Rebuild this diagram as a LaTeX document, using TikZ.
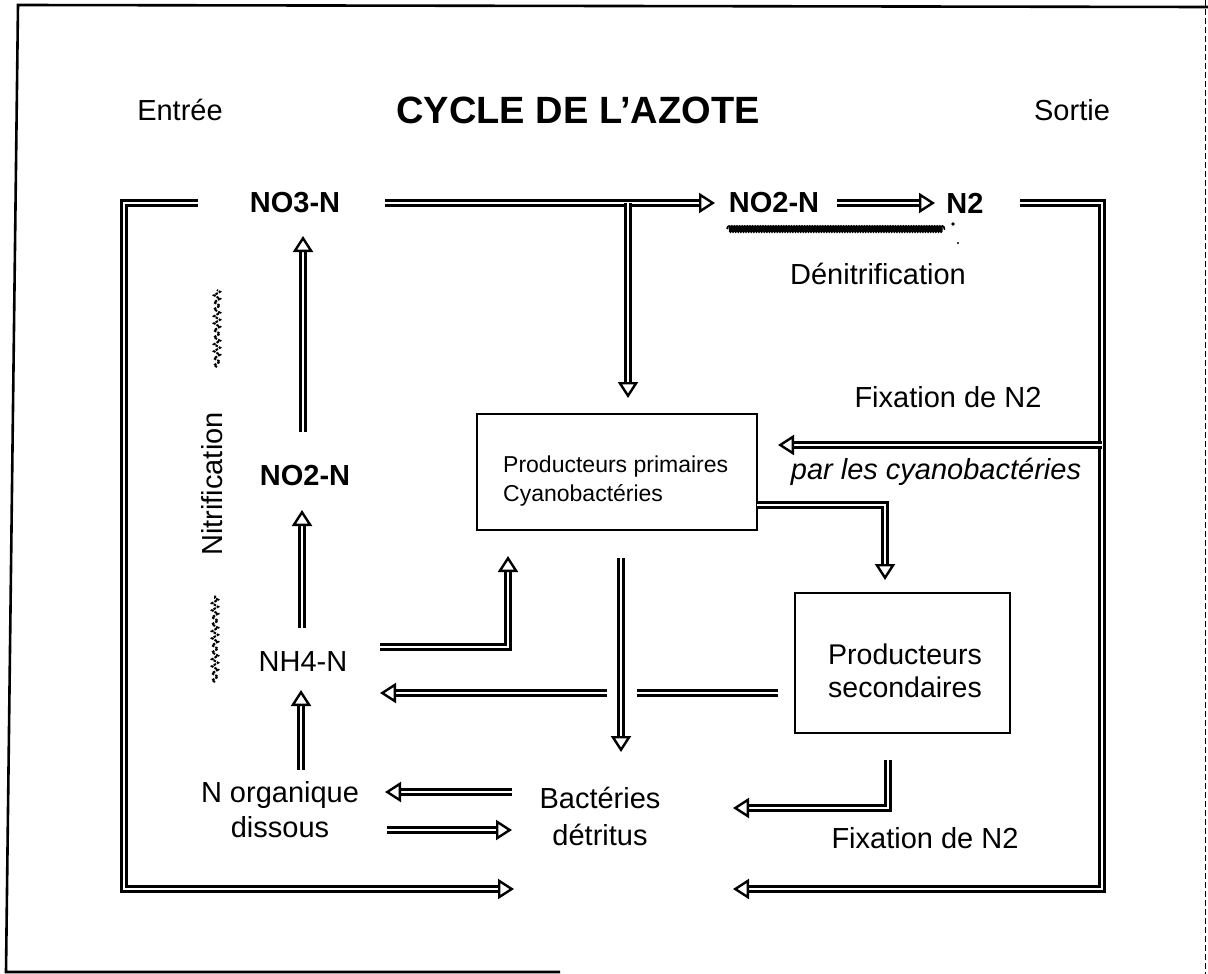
\documentclass[tikz,border=0pt]{standalone}
\usepackage{fontspec}
\setmainfont{Liberation Sans}
\usetikzlibrary{arrows.meta,decorations.pathmorphing}
\tikzset{
  lbl/.style={inner sep=1pt, font=\fontsize{29}{34}\selectfont, align=center},
  chem/.style={inner sep=1pt, font=\fontsize{29}{34}\selectfont\bfseries},
  box/.style={draw, line width=2pt, inner sep=0pt},
  dbl/.style={draw, line width=2.8pt, double=white, double distance=1.8pt, line join=miter},
  tip/.style={-{Triangle[open, length=16pt, width=20pt, line width=2.4pt]}},
  wav/.style={line width=2pt, decorate, decoration={zigzag, segment length=7pt, amplitude=3pt}, dash pattern=on 2.5pt off 1.2pt},
}
\begin{document}
\begin{tikzpicture}[x=1pt,y=-1pt]
\useasboundingbox (0,0) rectangle (1208,974);
% frame
\draw[line width=2.6pt] (1208,7) -- (18,5) -- (6,972) -- (560,972);
\draw[line width=0.8pt, dash pattern=on 6pt off 3pt] (1205,0) -- (1205,974);

% texts
\node[inner sep=1pt, font=\fontsize{38}{42}\selectfont\bfseries] (title) at (578,110) {CYCLE DE L’AZOTE};
\node[lbl] (entree) at (180,110) {Entrée};
\node[lbl] (sortie) at (1072,110) {Sortie};
\node[chem] (no3) at (295,203) {NO3-N};
\node[chem] (no2t) at (774,203) {NO2-N};
\node[chem] (n2) at (965,203) {N2};
\node[lbl] (denit) at (878,274) {Dénitrification};
\node[lbl] (fixA) at (948,397) {Fixation de N2};
\node[lbl, font=\fontsize{29}{34}\selectfont\itshape] (parcy) at (936,472) {par les cyanobactéries};
\node[chem] (no2l) at (305,476) {NO2-N};
\node[lbl] (nh4) at (303,662) {NH4-N};
\node[lbl, rotate=90] (nitr) at (212,484) {Nitrification};
\node[lbl, font=\fontsize{29}{35}\selectfont] (norg) at (280,810) {N organique\\dissous};
\node[lbl, font=\fontsize{29}{37}\selectfont] (bact) at (600,816) {Bactéries\\détritus};
\node[lbl] (fixB) at (925,838) {Fixation de N2};

% boxes
\node[box, minimum width=280pt, minimum height=116pt] (prim) at (617,472) {};
\node[inner sep=0pt, anchor=west, align=left, font=\fontsize{23}{29}\selectfont] (primtxt) at (503,481) {Producteurs primaires\\Cyanobactéries};
\node[box, minimum width=215pt, minimum height=140pt] (sec) at (902.5,663) {};
\node[inner sep=0pt, align=center, font=\fontsize{28.5}{33}\selectfont] (sectxt) at (905,671) {Producteurs\\secondaires};

% coordinates
\coordinate (a1s) at (198,203);
\coordinate (a1e) at (514,889);
\coordinate (a2s) at (385,203);
\coordinate (a2e) at (715,203);
\coordinate (a3s) at (628,203);
\coordinate (a3e) at (628,398);
\coordinate (a4s) at (837,203);
\coordinate (a4e) at (935,203);
\coordinate (a5s) at (1020,203);
\coordinate (a5e) at (733,889);
\coordinate (a6s) at (1102,445);
\coordinate (a6e) at (778,445);
\coordinate (a7s) at (757,505);
\coordinate (a7e) at (885,580);
\coordinate (a8s) at (888,760);
\coordinate (a8e) at (733,808);
\coordinate (a9s) at (621,558);
\coordinate (a9e) at (621,752);
\coordinate (a10s) at (380,647);
\coordinate (a10e) at (508,556);
\coordinate (a11s) at (607,693);
\coordinate (a11e) at (380,693);
\coordinate (a12s) at (637,693);
\coordinate (a12e) at (778,693);
\coordinate (a13s) at (303,432);
\coordinate (a13e) at (303,236);
\coordinate (a14s) at (302,628);
\coordinate (a14e) at (302,510);
\coordinate (a15s) at (301,770);
\coordinate (a15e) at (301,690);
\coordinate (a16s) at (512,792);
\coordinate (a16e) at (385,792);
\coordinate (a17s) at (387,830);
\coordinate (a17e) at (512,830);

% connectors
\draw[dbl, tip] (a1s) -- (124,203) -- (124,889) -- (a1e);
\draw[dbl, tip] (a2s) -- (a2e);
\draw[dbl, tip] (a3s) -- (a3e);
\draw[dbl, tip] (a4s) -- (a4e);
\draw[dbl, tip] (a5s) -- (1102,203) -- (1102,889) -- (a5e);
\draw[dbl, tip] (a6s) -- (a6e);
\draw[dbl, tip] (a7s) -- (885,505) -- (a7e);
\draw[dbl, tip] (a8s) -- (888,808) -- (a8e);
\draw[dbl, tip] (a9s) -- (a9e);
\draw[dbl, tip] (a10s) -- (508,647) -- (a10e);
\draw[dbl, tip] (a11s) -- (a11e);
\draw[dbl] (a12s) -- (a12e);
\draw[dbl, tip] (a13s) -- (a13e);
\draw[dbl, tip] (a14s) -- (a14e);
\draw[dbl, tip] (a15s) -- (a15e);
\draw[dbl, tip] (a16s) -- (a16e);
\draw[dbl, tip] (a17s) -- (a17e);

% wavy marks
\coordinate (w1s) at (727,229);
\coordinate (w1e) at (945,229);
\draw[line width=1.7pt, decorate, decoration={coil, amplitude=3pt, segment length=2.6pt}] (w1s) -- (w1e);
\fill (953,224) circle (1.8pt);
\fill (958,243) circle (1.2pt);
\coordinate (w2s) at (217,367);
\coordinate (w2e) at (217,290);
\draw[wav] (w2s) -- (w2e);
\coordinate (w3s) at (215,682);
\coordinate (w3e) at (215,595);
\draw[wav] (w3s) -- (w3e);
\end{tikzpicture}
\end{document}
